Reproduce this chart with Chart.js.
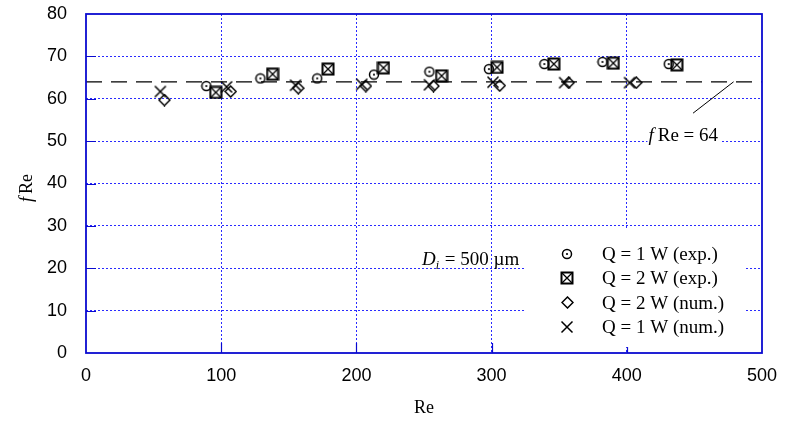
<!DOCTYPE html>
<html lang="en">
<head>
<meta charset="UTF-8">
<title>fRe vs Re</title>
<script src="https://cdn.jsdelivr.net/npm/chart.js"></script>
<style>
  html, body { margin: 0; padding: 0; background: #fff; }
  .chart-container { position: relative; width: 785px; height: 424px; }
</style>
</head>
<body>
<div class="chart-container"><canvas id="frChart" width="785" height="424"></canvas></div>
<script>
// Q = 1 W, experiment
const reExp1  = [89, 129, 171, 213, 254, 298, 339, 382, 431];
const fReExp1 = [63.0, 64.8, 64.8, 65.7, 66.4, 67.0, 68.2, 68.7, 68.2];
// Q = 2 W, experiment
const reExp2  = [96, 138, 179, 220, 263, 304, 346, 390, 437];
const fReExp2 = [61.5, 65.8, 67.0, 67.3, 65.4, 67.4, 68.2, 68.4, 68.0];
// Q = 2 W, numerical
const reNum2  = [58, 107, 157, 207, 257, 306, 357, 407];
const fReNum2 = [59.7, 61.7, 62.5, 63.0, 63.0, 63.1, 63.8, 63.8];
// Q = 1 W, numerical
const reNum1  = [55, 104, 155, 204, 254, 301, 354, 402];
const fReNum1 = [61.7, 62.8, 63.2, 63.4, 63.3, 63.9, 63.8, 63.8];

// laminar theory fRe = 64 and the leader to its label
const theoryRe  = [0, 500];
const theoryFRe = [64, 64];
const leaderRe  = [449, 479];
const leaderFRe = [56.6, 64];

const seriesLabels = ['Q = 1 W (exp.)', 'Q = 2 W (exp.)', 'Q = 2 W (num.)', 'Q = 1 W (num.)'];

const xMin = 0, xMax = 500, xStep = 100;
const yMin = 0, yMax = 80, yStep = 10;

const BLUE_FRAME = '#0a0ad0';
const BLUE_GRID = '#2a2aff';
const SERIF = '"Liberation Serif", "Times New Roman", serif';
const SANS = '"Liberation Sans", Arial, sans-serif';

function toPoints(xs, ys) {
    return xs.map((x, i) => ({ x: x, y: ys[i] }));
}

// small canvases used as point markers (and reused in the legend)
function makeMarker(size, draw) {
    const c = document.createElement('canvas');
    c.width = size; c.height = size;
    const g = c.getContext('2d');
    g.strokeStyle = '#000';
    g.fillStyle = '#000';
    draw(g, size);
    return c;
}

const circleDot = makeMarker(12, (g) => {
    g.lineWidth = 1.5;
    g.beginPath(); g.arc(6, 6, 4.5, 0, Math.PI * 2); g.stroke();
    g.beginPath(); g.arc(6, 6, 1.1, 0, Math.PI * 2); g.fill();
});
const squareCross = makeMarker(14, (g) => {
    g.lineWidth = 2;
    g.strokeRect(1.5, 1.5, 11, 11);
    g.lineWidth = 1.3;
    g.beginPath();
    g.moveTo(2, 2); g.lineTo(12, 12);
    g.moveTo(12, 2); g.lineTo(2, 12);
    g.stroke();
});
const diamond = makeMarker(13, (g) => {
    g.lineWidth = 1.5;
    g.beginPath();
    g.moveTo(6.5, 1); g.lineTo(12, 6.5); g.lineTo(6.5, 12); g.lineTo(1, 6.5);
    g.closePath(); g.stroke();
});
const xCross = makeMarker(14, (g) => {
    g.lineWidth = 1.5;
    g.beginPath();
    g.moveTo(1.5, 1.5); g.lineTo(12.5, 12.5);
    g.moveTo(12.5, 1.5); g.lineTo(1.5, 12.5);
    g.stroke();
});
const markers = [circleDot, squareCross, diamond, xCross];

// frame, inward tick marks, axis titles, labels and legend box
const decorations = {
    id: 'decorations',
    afterDraw(chart) {
        const ctx = chart.ctx;
        const a = chart.chartArea;
        const xs = chart.scales.x, ys = chart.scales.y;
        ctx.save();

        // inward ticks
        ctx.strokeStyle = BLUE_FRAME;
        ctx.lineWidth = 1.2;
        ctx.beginPath();
        for (let v = yMin + yStep; v < yMax; v += yStep) {
            const py = Math.round(ys.getPixelForValue(v)) + 0.5;
            ctx.moveTo(a.left, py); ctx.lineTo(a.left + 10, py);
        }
        for (let v = xMin + xStep; v < xMax; v += xStep) {
            const px = Math.round(xs.getPixelForValue(v)) + 0.5;
            ctx.moveTo(px, a.bottom); ctx.lineTo(px, a.bottom - 10);
        }
        ctx.stroke();

        // frame
        ctx.lineWidth = 1.8;
        ctx.strokeRect(a.left, a.top, a.right - a.left, a.bottom - a.top);

        ctx.fillStyle = '#000';

        // x title
        ctx.font = '18px ' + SERIF;
        ctx.textAlign = 'center';
        ctx.textBaseline = 'middle';
        ctx.fillText('Re', (a.left + a.right) / 2, 408);

        // y title: italic f + Re
        ctx.save();
        ctx.translate(27, 188);
        ctx.rotate(-Math.PI / 2);
        ctx.textAlign = 'left';
        ctx.font = 'italic 18px ' + SERIF;
        const wf = ctx.measureText('f').width + 3;
        ctx.font = '18px ' + SERIF;
        const wr = ctx.measureText('Re').width;
        let sx = -(wf + wr) / 2;
        ctx.font = 'italic 18px ' + SERIF;
        ctx.fillText('f', sx, 0);
        ctx.font = '18px ' + SERIF;
        ctx.fillText('Re', sx + wf, 0);
        ctx.restore();

        ctx.textAlign = 'left';
        ctx.textBaseline = 'alphabetic';

        // fRe = 64 label with white backing
        let lx = xs.getPixelForValue(416), ly = ys.getPixelForValue(50);
        ctx.font = 'italic 19px ' + SERIF;
        const wItal = ctx.measureText('f').width + 4;
        ctx.font = '19px ' + SERIF;
        const wRest = ctx.measureText('Re = 64').width;
        ctx.fillStyle = '#fff';
        ctx.fillRect(lx - 1, ly - 14, wItal + wRest + 4, 22);
        ctx.fillStyle = '#000';
        ctx.font = 'italic 19px ' + SERIF;
        ctx.fillText('f', lx, ly);
        ctx.font = '19px ' + SERIF;
        ctx.fillText('Re = 64', lx + wItal, ly);

        // D_i = 500 µm
        lx = xs.getPixelForValue(248.5); ly = ys.getPixelForValue(20.8);
        ctx.font = 'italic 19px ' + SERIF;
        ctx.fillText('D', lx, ly);
        let off = ctx.measureText('D').width;
        ctx.font = 'italic 12px ' + SERIF;
        ctx.fillText('i', lx + off, ly + 4);
        off += ctx.measureText('i').width + 1;
        ctx.font = '19px ' + SERIF;
        ctx.fillText(' = 500 \u00B5m', lx + off, ly);

        // legend
        const bx0 = xs.getPixelForValue(325), bx1 = xs.getPixelForValue(487);
        const by0 = ys.getPixelForValue(29.5), by1 = ys.getPixelForValue(1.4);
        ctx.fillStyle = '#fff';
        ctx.fillRect(bx0, by0, bx1 - bx0, by1 - by0);
        ctx.fillStyle = '#000';
        ctx.font = '19px ' + SERIF;
        ctx.textBaseline = 'middle';
        const symX = xs.getPixelForValue(355.8);
        const txtX = xs.getPixelForValue(381.7);
        seriesLabels.forEach((lbl, i) => {
            const ry = ys.getPixelForValue(23.4) + i * 24.5;
            const m = markers[i];
            ctx.drawImage(m, Math.round(symX - m.width / 2), Math.round(ry - m.height / 2));
            ctx.fillText(lbl, txtX, ry + 1);
        });

        ctx.restore();
    }
};

const gridColor = (ctx) => {
    const v = ctx.tick ? ctx.tick.value : null;
    if (v === null) return BLUE_GRID;
    const s = ctx.scale;
    return (v === s.min || v === s.max) ? 'rgba(0,0,0,0)' : BLUE_GRID;
};

const scatterSet = (label, xs, ys, marker) => ({
    type: 'scatter',
    label: label,
    data: toPoints(xs, ys),
    pointStyle: marker,
    pointRadius: 6,
    pointHoverRadius: 6,
    showLine: false
});

new Chart(document.getElementById('frChart'), {
    type: 'scatter',
    data: {
        datasets: [
            scatterSet(seriesLabels[1], reExp2, fReExp2, squareCross),
            scatterSet(seriesLabels[0], reExp1, fReExp1, circleDot),
            scatterSet(seriesLabels[3], reNum1, fReNum1, xCross),
            scatterSet(seriesLabels[2], reNum2, fReNum2, diamond),
            {
                type: 'line',
                label: 'fRe = 64',
                data: toPoints(theoryRe, theoryFRe),
                borderColor: '#000',
                borderWidth: 1.2,
                borderDash: [16, 9],
                pointRadius: 0,
                fill: false
            },
            {
                type: 'line',
                label: 'leader',
                data: toPoints(leaderRe, leaderFRe),
                borderColor: '#000',
                borderWidth: 1,
                pointRadius: 0,
                fill: false
            }
        ]
    },
    options: {
        responsive: false,
        animation: false,
        devicePixelRatio: 1,
        layout: { padding: { left: 0, right: 23, top: 14, bottom: 0 } },
        plugins: {
            legend: { display: false },
            tooltip: { enabled: false }
        },
        scales: {
            x: {
                type: 'linear',
                min: xMin, max: xMax,
                afterFit: (s) => { s.height = 71; s.paddingLeft = 0; s.paddingRight = 0; },
                ticks: { stepSize: xStep, padding: 12, color: '#000', font: { family: SANS, size: 18 } },
                grid: { color: gridColor, lineWidth: 1, drawTicks: false },
                border: { display: false, dash: [2, 2] }
            },
            y: {
                type: 'linear',
                min: yMin, max: yMax,
                afterFit: (s) => { s.width = 86; s.paddingTop = 0; s.paddingBottom = 0; },
                ticks: { stepSize: yStep, padding: 19, color: '#000', font: { family: SANS, size: 18 } },
                grid: { color: gridColor, lineWidth: 1, drawTicks: false },
                border: { display: false, dash: [2, 2] }
            }
        }
    },
    plugins: [decorations]
});
</script>
</body>
</html>
